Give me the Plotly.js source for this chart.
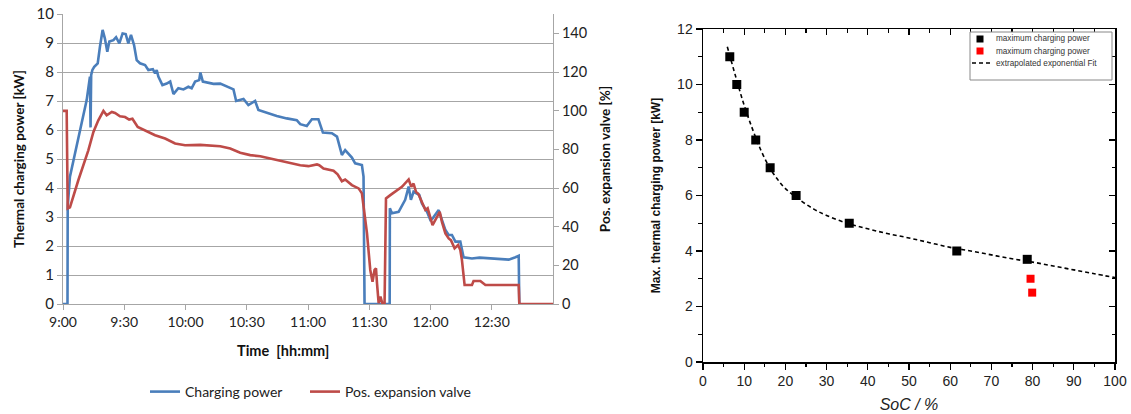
<!DOCTYPE html>
<html>
<head>
<meta charset="utf-8">
<script src="https://cdn.plot.ly/plotly-3.0.1.min.js"></script>
<style>html,body{margin:0;padding:0;background:#fff;} #chart{width:1131px;height:414px;}</style>
</head>
<body>
<div id="chart"></div>
<script>
// ---------- Left chart data (minutes after 9:00) ----------
const timeTickVals = [0, 30, 60, 90, 120, 150, 180, 210];
const timeTickLabels = ['9:00', '9:30', '10:00', '10:30', '11:00', '11:30', '12:00', '12:30'];

const powerMinutes = [0,2.2,2.3,3.4,5.9,8.3,11.6,13.2,13.5,13.8,14.4,15.3,17.0,18.1,19.4,20.5,21.7,22.7,24.7,26,27.6,29.2,30.7,32,33.3,34.8,36.1,37.7,40.2,41.8,44,45.1,45.9,46.7,48.7,50.8,52.5,54.1,56.5,59,61.4,63,64.7,66.7,67.3,68.5,73.7,77,80.2,83.5,84.8,88.4,90.8,94.1,95.7,99.8,104.7,109.6,114.5,116.2,119.4,121.9,125.1,127.3,131.7,134.2,136.6,138.2,141.5,143.1,146.4,147.2,147.7,160,160.1,161.1,164.4,167.6,169.3,170.4,171.7,174.5,175.8,178.3,179.9,181,184,185.6,187.3,188.9,190.5,192.2,194.6,196.2,200.3,204,208.5,213.4,218.3,221.6,223.2,223.5];
const powerKW = [0,0,3.35,4.39,5.2,6.0,7.03,7.84,6.09,7.9,8.07,8.18,8.3,8.87,9.45,9.16,8.7,9.05,9.1,9.2,8.99,9.33,9.31,8.99,9.28,8.93,8.41,8.3,8.24,8.07,8.1,7.95,8.07,7.84,7.55,7.6,7.67,7.24,7.44,7.4,7.49,7.44,7.67,7.72,7.98,7.67,7.59,7.6,7.49,7.4,7.0,7.07,6.86,7.0,6.69,6.6,6.48,6.4,6.34,6.2,6.14,6.37,6.37,5.91,5.89,5.77,5.14,5.31,5.05,4.85,4.79,4.39,0,0,3.3,3.13,3.18,3.59,4.05,3.59,3.87,3.76,3.47,3.18,2.9,2.95,3.24,2.9,2.55,2.38,2.38,2.15,2.15,1.61,1.57,1.6,1.57,1.55,1.53,1.61,1.66,0];

const valveMinutes = [0,1.8,2.3,3.4,7.5,12.4,14.9,17.3,19.8,21.4,23.9,25.5,27.9,30.4,32.4,34,36.6,40.2,45.1,50,54.9,59.8,67.2,77,81.9,86.8,91.7,96.6,101.5,106.4,111.3,116.2,120.2,124.4,125.5,127.6,132.5,134.5,136.6,138.2,141.5,144.8,146.4,148.9,150.5,151.6,152.6,153.3,153.8,154.6,155.5,156.5,157.5,158.2,160.3,162.7,166,169.3,170.6,171.7,172.9,174,175,176.3,177.5,178.6,179.9,181,183.2,184.5,185.6,187.3,188.9,190,191.8,193.5,194.6,195.4,196.7,200.3,201.1,204.4,206.9,223.2,223.5,240];
const valvePct = [99.9,99.9,49.4,50,64,79.5,89,95,99.9,97.6,99.3,98.8,97.1,96.7,95.4,95.8,91.6,89.9,87.3,85.6,83,82.1,82.3,81.6,80.4,78.2,77,76.4,75.2,74,72.7,71.8,71.3,72.2,71.8,70.1,68.9,67.1,63.5,64.4,61.5,59.8,57.2,36.5,17.6,11.5,17.6,18.4,10.7,0.4,3.8,0,0,54.6,56.3,58,60.6,64.4,60.6,62.3,58,57,54.6,51.1,48.6,49.5,45.1,40.8,45.1,47.7,42.5,36.5,33.9,33,28.8,30.5,27.9,22.7,9.8,9.8,11.9,11.9,9.8,9.8,0,0];

// ---------- Right chart data ----------
const socMeasured = [6.5, 8.2, 10.0, 12.8, 16.3, 22.6, 35.5, 61.6, 78.7];
const powerMeasured = [11.0, 10.0, 9.0, 8.0, 7.0, 6.0, 5.0, 4.0, 3.7];
const socRed = [79.5, 79.9];
const powerRed = [3.0, 2.5];
const socFit = [5.9, 8, 10, 12, 14, 16, 18, 20, 23.5, 27, 30, 35, 40, 45, 50, 55, 60, 65, 70, 75, 80, 85, 90, 95, 100];
const powerFit = [11.36, 10.25, 9.25, 8.4, 7.65, 7.05, 6.6, 6.25, 5.84, 5.5, 5.28, 5.0, 4.8, 4.62, 4.47, 4.3, 4.13, 4.0, 3.86, 3.72, 3.6, 3.46, 3.32, 3.18, 3.04];
const rightLegendLabels = ['maximum charging power', 'maximum charging power', 'extrapolated exponential Fit'];

const BLUE = '#4a7ebb', RED = '#be4b48', GRID = '#a6a6a6';
const leftFont = 'Lato, "Open Sans", sans-serif';
const rightFont = '"Liberation Sans", Arial, sans-serif';
const W = 1131, H = 414;
const px = v => v / W, py = v => 1 - v / H;

const traces = [
  {x: powerMinutes, y: powerKW, xaxis: 'x', yaxis: 'y', type: 'scatter', mode: 'lines',
   name: 'Charging power', line: {color: BLUE, width: 2.6}, legend: 'legend'},
  {x: valveMinutes, y: valvePct, xaxis: 'x', yaxis: 'y2', type: 'scatter', mode: 'lines',
   name: 'Pos. expansion valve', line: {color: RED, width: 2.6}, legend: 'legend2'},
  {x: socMeasured, y: powerMeasured, xaxis: 'x3', yaxis: 'y3', type: 'scatter', mode: 'markers',
   name: rightLegendLabels[0], marker: {symbol: 'square', size: 9, color: '#000'}, showlegend: false},
  {x: socRed, y: powerRed, xaxis: 'x3', yaxis: 'y3', type: 'scatter', mode: 'markers',
   name: rightLegendLabels[1], marker: {symbol: 'square', size: 8, color: '#ff0000'}, showlegend: false},
  {x: socFit, y: powerFit, xaxis: 'x3', yaxis: 'y3', type: 'scatter', mode: 'lines',
   name: rightLegendLabels[2], line: {color: '#000', width: 1.6, dash: '4px,3px', shape: 'spline'}, showlegend: false},
  {x: [0], y: [0], xaxis: 'x4', yaxis: 'y4', type: 'scatter', mode: 'markers', marker: {opacity: 0}, showlegend: false, hoverinfo: 'skip'}
];

// manual boxed legend for the right chart (Origin style, compact rows)
const legendRowsY = [39, 51, 63];
const shapes = [
  {type: 'rect', xref: 'paper', yref: 'paper', x0: px(970), x1: px(1112), y0: py(32), y1: py(80),
   line: {color: '#888', width: 1}, fillcolor: '#fff', layer: 'above'},
  {type: 'rect', xref: 'paper', yref: 'paper', x0: px(976.5), x1: px(983.5), y0: py(legendRowsY[0] - 3.5), y1: py(legendRowsY[0] + 3.5),
   line: {width: 0}, fillcolor: '#000', layer: 'above'},
  {type: 'rect', xref: 'paper', yref: 'paper', x0: px(976.5), x1: px(983.5), y0: py(legendRowsY[1] - 3.5), y1: py(legendRowsY[1] + 3.5),
   line: {width: 0}, fillcolor: '#ff0000', layer: 'above'},
  {type: 'line', xref: 'paper', yref: 'paper', x0: px(972), x1: px(991), y0: py(legendRowsY[2]), y1: py(legendRowsY[2]),
   line: {color: '#000', width: 1.6, dash: '4px,3px'}, layer: 'above'}
];
const annotations = [
  {xref: 'paper', yref: 'paper', x: px(283), y: py(350), xanchor: 'center', yanchor: 'middle', showarrow: false,
   text: 'Time\u00a0 [hh:mm]', font: {family: leftFont, size: 14.5, color: '#111', weight: 'bold'}}
].concat(rightLegendLabels.map((t, i) => ({
  xref: 'paper', yref: 'paper', x: px(994), y: py(legendRowsY[i]), xanchor: 'left', yanchor: 'middle', showarrow: false,
  text: t, font: {family: rightFont, size: 8.2, color: '#333'}
})));

const legendCommon = {
  orientation: 'h', xanchor: 'left', y: 22/H, yanchor: 'middle',
  font: {family: leftFont, size: 14, color: '#222'}, itemwidth: 30,
  bgcolor: 'rgba(0,0,0,0)', tracegroupgap: 0
};

const layout = {
  width: W, height: H,
  margin: {l: 0, r: 0, t: 0, b: 0},
  paper_bgcolor: '#fff', plot_bgcolor: 'rgba(0,0,0,0)',
  showlegend: true,
  shapes: shapes,
  annotations: annotations,
  xaxis: {
    domain: [63/W, 553/W], anchor: 'y', range: [0, 240],
    tickmode: 'array', tickvals: timeTickVals, ticktext: timeTickLabels,
    ticks: 'outside', ticklen: 5, tickcolor: GRID, showline: true, linecolor: GRID, linewidth: 1,
    showgrid: false, zeroline: false, tickfont: {family: leftFont, size: 14, color: '#222'}, fixedrange: true
  },
  yaxis: {
    domain: [110/H, 400/H], anchor: 'x', range: [0, 10], dtick: 1,
    ticks: 'outside', ticklen: 5, tickcolor: GRID, showline: true, linecolor: GRID,
    showgrid: true, gridcolor: GRID, gridwidth: 1, zeroline: false,
    tickfont: {family: leftFont, size: 15, color: '#222'},
    title: {text: 'Thermal charging power [kW]', font: {family: leftFont, size: 13.5, color: '#111', weight: 'bold'}, standoff: 8}
  },
  yaxis2: {
    overlaying: 'y', side: 'right', anchor: 'x', range: [0, 150], dtick: 20,
    ticks: 'outside', ticklen: 5, tickcolor: GRID, showline: true, linecolor: GRID,
    showgrid: false, zeroline: false,
    tickfont: {family: leftFont, size: 14.5, color: '#222'},
    title: {text: 'Pos. expansion valve [%]', font: {family: leftFont, size: 13.5, color: '#111', weight: 'bold'}, standoff: 14}
  },
  xaxis3: {
    domain: [703/W, 1115/W], anchor: 'y3', range: [0, 100], dtick: 10,
    ticks: 'outside', ticklen: 6, tickwidth: 1.3, tickcolor: '#000',
    minor: {dtick: 5, ticks: 'outside', ticklen: 3.5, tickwidth: 1.2, tickcolor: '#000', showgrid: false},
    showline: true, linecolor: '#000', linewidth: 1.5, mirror: true,
    showgrid: false, zeroline: false, tickfont: {family: rightFont, size: 14, color: '#222'},
    title: {text: 'SoC / %', font: {family: rightFont, size: 16, color: '#222', style: 'italic'}, standoff: 10}
  },
  yaxis3: {
    domain: [52/H, 385/H], anchor: 'x3', range: [0, 12], dtick: 2,
    ticks: 'outside', ticklen: 6, tickwidth: 1.3, tickcolor: '#000',
    minor: {dtick: 1, ticks: 'outside', ticklen: 3.5, tickwidth: 1.2, tickcolor: '#000', showgrid: false},
    showline: true, linecolor: '#000', linewidth: 1.5, mirror: true,
    showgrid: false, zeroline: false, tickfont: {family: rightFont, size: 14, color: '#222'},
    title: {text: 'Max. thermal charging power [kW]', font: {family: rightFont, size: 12, color: '#111', weight: 'bold'}, standoff: 14}
  },
  xaxis4: {
    overlaying: 'x3', side: 'top', anchor: 'y3', range: [0, 100], dtick: 10,
    ticks: 'inside', ticklen: 6, tickwidth: 1.3, tickcolor: '#000',
    minor: {dtick: 5, ticks: 'inside', ticklen: 3.5, tickwidth: 1.2, tickcolor: '#000'},
    showticklabels: false, showgrid: false, zeroline: false, showline: false
  },
  yaxis4: {
    overlaying: 'y3', side: 'right', anchor: 'x3', range: [0, 12], dtick: 2,
    ticks: 'inside', ticklen: 6, tickwidth: 1.3, tickcolor: '#000',
    minor: {dtick: 1, ticks: 'inside', ticklen: 3.5, tickwidth: 1.2, tickcolor: '#000'},
    showticklabels: false, showgrid: false, zeroline: false, showline: false
  },
  legend: Object.assign({}, legendCommon, {x: 145/W}),
  legend2: Object.assign({}, legendCommon, {x: 305/W})
};

Plotly.newPlot('chart', traces, layout, {staticPlot: true, displayModeBar: false});
</script>
</body>
</html>
